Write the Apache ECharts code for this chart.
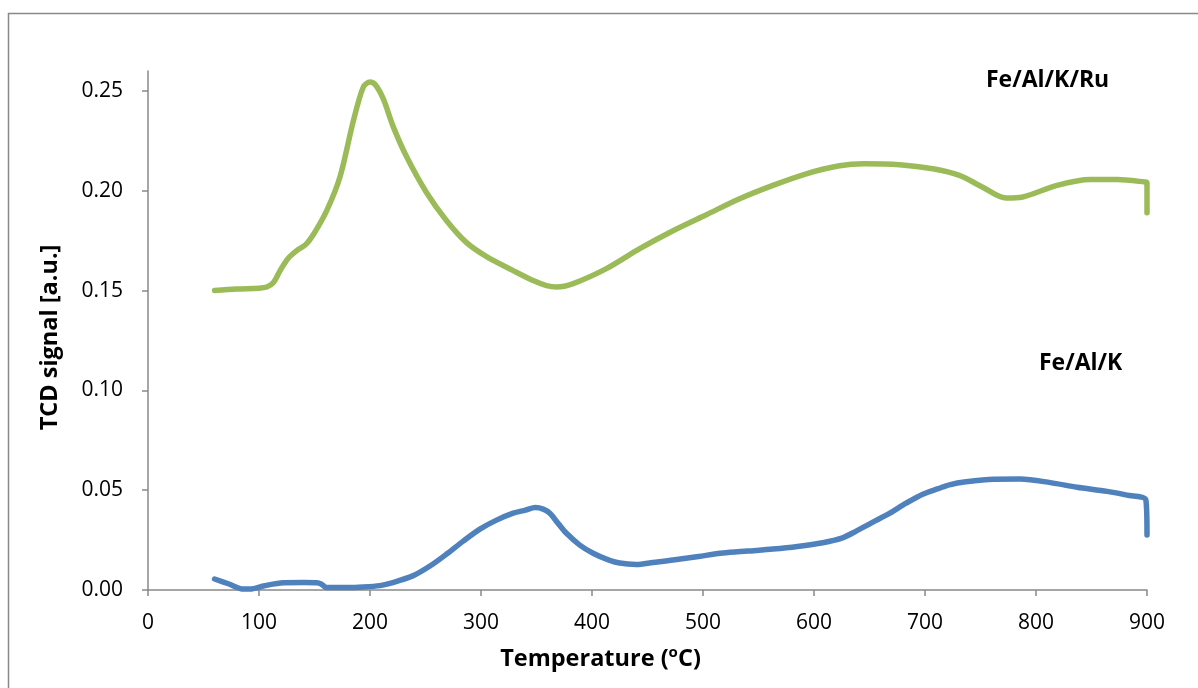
<!DOCTYPE html>
<html>
<head>
<meta charset="utf-8">
<title>TPR profiles</title>
<script src="https://cdn.jsdelivr.net/npm/echarts@6/dist/echarts.min.js"></script>
<style>
  html, body { margin: 0; padding: 0; background: #ffffff; }
  #chart { width: 1198px; height: 688px; }
</style>
</head>
<body>
<div id="chart"></div>
<script>
// Fe/Al/K/Ru catalyst: temperature (°C) and TCD signal (a.u.)
const feAlKRuTemp = [60, 80, 100, 107, 113, 119, 126, 134, 142, 150, 161, 173, 185, 194, 200, 205, 212, 221, 233, 251, 269, 287, 305, 329, 347, 359, 368, 383, 413, 443, 473, 503, 533, 563, 593, 623, 645, 677, 707, 731, 752, 773, 788, 819, 849, 873, 898, 900, 900];
const feAlKRuSignal = [0.150, 0.1508, 0.1512, 0.1518, 0.154, 0.160, 0.166, 0.170, 0.173, 0.179, 0.190, 0.207, 0.235, 0.252, 0.2545, 0.253, 0.246, 0.232, 0.217, 0.199, 0.185, 0.174, 0.167, 0.160, 0.155, 0.1525, 0.1518, 0.1535, 0.161, 0.171, 0.180, 0.188, 0.196, 0.2027, 0.2085, 0.2125, 0.2135, 0.2130, 0.2110, 0.2077, 0.2018, 0.1964, 0.1969, 0.2027, 0.2056, 0.2056, 0.2044, 0.2040, 0.189];

// Fe/Al/K catalyst
const feAlKTemp = [60, 73, 86, 92, 104, 122, 140, 152, 156, 161, 180, 194, 209, 218, 239, 254, 269, 284, 299, 314, 329, 340, 349, 356, 362, 370, 377, 389, 401, 413, 425, 440, 455, 473, 496, 518, 540, 563, 585, 608, 625, 638, 653, 668, 683, 698, 712, 722, 737, 762, 786, 813, 837, 864, 882, 899, 900];
const feAlKSignal = [0.0055, 0.003, 0.0005, 0.0005, 0.002, 0.0036, 0.0037, 0.0036, 0.003, 0.0012, 0.0012, 0.0015, 0.0022, 0.0033, 0.0072, 0.012, 0.018, 0.0245, 0.0305, 0.035, 0.0385, 0.040, 0.0413, 0.0405, 0.0384, 0.033, 0.0284, 0.0225, 0.0184, 0.0155, 0.0135, 0.0128, 0.0138, 0.0150, 0.0168, 0.0185, 0.0195, 0.0205, 0.0218, 0.0237, 0.026, 0.0295, 0.034, 0.0384, 0.0435, 0.0480, 0.0508, 0.0527, 0.0542, 0.0555, 0.0556, 0.0538, 0.0515, 0.0494, 0.0475, 0.0450, 0.0275];

const xTicks = [0, 100, 200, 300, 400, 500, 600, 700, 800, 900];
const yTicks = [0, 0.05, 0.10, 0.15, 0.20, 0.25];

const seriesLabels = ['Fe/Al/K/Ru', 'Fe/Al/K'];

const zip = (xs, ys) => xs.map((x, i) => [x, ys[i]]);

const axisGray = '#898989';
const fontFamily = '"Open Sans", "Liberation Sans", sans-serif';

const chart = echarts.init(document.getElementById('chart'), null, { renderer: 'canvas' });

chart.setOption({
  backgroundColor: '#ffffff',
  animation: false,
  grid: { left: 148, right: 51, top: 71, bottom: 98 },
  graphic: [
    {
      type: 'rect',
      shape: { x: 8.5, y: 13.5, width: 1400, height: 900 },
      style: { fill: 'none', stroke: axisGray, lineWidth: 1.5 },
      silent: true
    },
    {
      type: 'text',
      left: 986, top: 69,
      style: { text: seriesLabels[0], font: 'bold 23px ' + fontFamily, fill: '#000000' }
    },
    {
      type: 'text',
      left: 1039, top: 352,
      style: { text: seriesLabels[1], font: 'bold 23px ' + fontFamily, fill: '#000000' }
    }
  ],
  xAxis: {
    type: 'value',
    min: 0, max: 900, interval: 100,
    name: '{b|Temperature (}{s|o}{b|C)}',
    nameLocation: 'middle',
    nameGap: 55,
    nameTextStyle: {
      padding: [0, 94, 0, 0],
      rich: {
        b: { fontFamily, fontWeight: 'bold', fontSize: 23.5, color: '#000', lineHeight: 26, verticalAlign: 'bottom' },
        s: { fontFamily, fontWeight: 'bold', fontSize: 15, color: '#000', lineHeight: 26, verticalAlign: 'top' }
      }
    },
    axisLine: { show: true, onZero: false, lineStyle: { color: axisGray, width: 1.5 } },
    axisTick: { show: true, length: 6, inside: false, lineStyle: { color: axisGray, width: 1.5 }, customValues: xTicks },
    axisLabel: { customValues: xTicks, color: '#000', fontFamily, fontSize: 21, margin: 23 },
    splitLine: { show: false }
  },
  yAxis: {
    type: 'value',
    min: 0, max: 0.26, interval: 0.05,
    name: 'TCD signal [a.u.]',
    nameLocation: 'middle',
    nameGap: 86,
    nameTextStyle: { fontFamily, fontWeight: 'bold', fontSize: 23.5, color: '#000', padding: [0, 14, 0, 0] },
    axisLine: { show: true, lineStyle: { color: axisGray, width: 1.5 } },
    axisTick: { show: true, length: 6, inside: false, lineStyle: { color: axisGray, width: 1.5 }, customValues: yTicks },
    axisLabel: {
      customValues: yTicks, color: '#000', fontFamily, fontSize: 21, margin: 25,
      formatter: v => v.toFixed(2)
    },
    splitLine: { show: false }
  },
  series: [
    {
      name: seriesLabels[0],
      type: 'line',
      data: zip(feAlKRuTemp, feAlKRuSignal),
      smooth: 0.3,
      symbol: 'none',
      lineStyle: { color: '#9BBB59', width: 5.5, cap: 'round', join: 'round' },
      z: 3
    },
    {
      name: seriesLabels[1],
      type: 'line',
      data: zip(feAlKTemp, feAlKSignal),
      smooth: 0.3,
      symbol: 'none',
      lineStyle: { color: '#4F81BD', width: 5.5, cap: 'round', join: 'round' },
      z: 3
    }
  ]
});
</script>
</body>
</html>
